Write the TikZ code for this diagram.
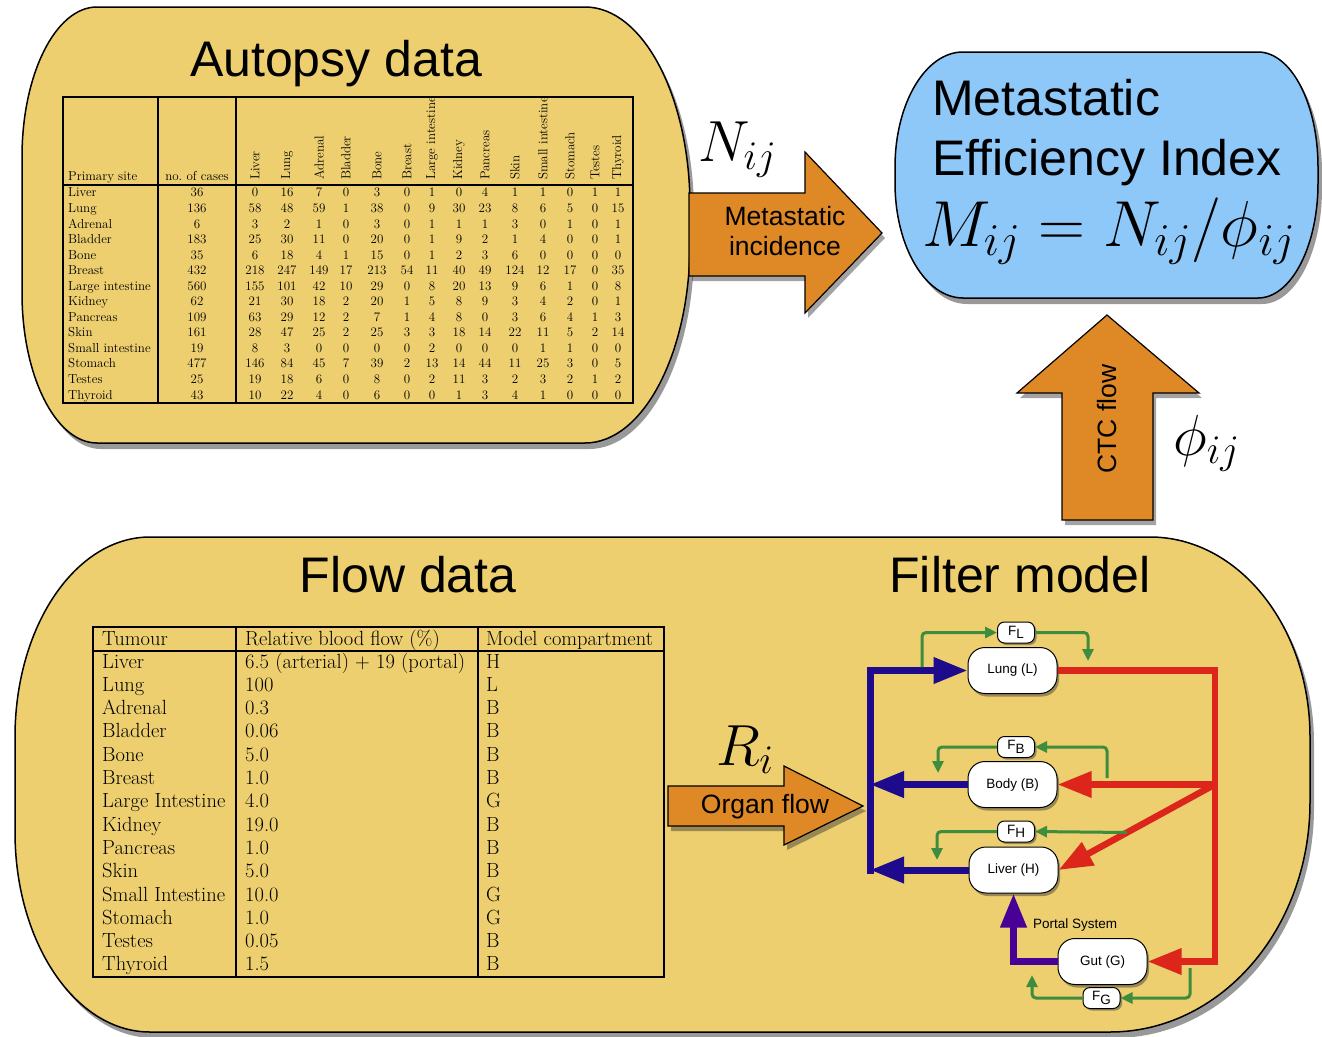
\documentclass[tikz,border=0pt]{standalone}
\usepackage{fix-cm}
\usepackage{fontspec}
\newfontfamily\arialf{Liberation Sans}
\usetikzlibrary{arrows.meta,shadows}
\definecolor{boxyellow}{RGB}{237,207,112}
\definecolor{boxblue}{RGB}{142,200,248}
\definecolor{arrorange}{RGB}{222,136,38}
\definecolor{navyc}{RGB}{30,10,140}
\definecolor{purpc}{RGB}{72,0,150}
\definecolor{redc}{RGB}{220,38,27}
\definecolor{greenc}{RGB}{62,140,62}
\begin{document}
\begin{tikzpicture}[x=1pt,y=-1pt,
  bigbox/.style={draw=black, line width=1.5pt, line join=round,
     drop shadow={opacity=0.5, shadow xshift=4pt, shadow yshift=-6pt, fill=black!80}},
  bigarrow/.style={draw=black, line width=1.2pt, fill=arrorange, line join=miter,
     drop shadow={opacity=0.45, shadow xshift=3pt, shadow yshift=-5pt, fill=black!80}},
  title/.style={font=\arialf\fontsize{50}{60}\selectfont, inner sep=0pt},
  arrlabel/.style={font=\arialf\fontsize{26.5}{30}\selectfont, inner sep=0pt},
  tabtxt/.style={font=\fontsize{13}{15}\selectfont, inner sep=0pt},
  ftabtxt/.style={font=\fontsize{20.5}{23}\selectfont, inner sep=0pt, anchor=base west},
  tabline/.style={line width=1.2pt},
  fnode/.style={draw=black, line width=1pt, fill=white, rounded corners=17pt,
     minimum width=89pt, minimum height=46pt, inner sep=0pt,
     font=\arialf\fontsize{13.5}{16}\selectfont,
     drop shadow={opacity=0.45, shadow xshift=2pt, shadow yshift=-3pt, fill=black!80}},
  fsmall/.style={draw=black, line width=1pt, fill=white, rounded corners=7pt,
     minimum width=37pt, minimum height=21pt, inner sep=0pt,
     font=\arialf\fontsize{13.5}{16}\selectfont,
     drop shadow={opacity=0.45, shadow xshift=2pt, shadow yshift=-2pt, fill=black!80}},
  bigtip/.style={-{Triangle[length=34pt,width=25pt]}},
  navyline/.style={draw=navyc, line width=7pt, line join=miter, bigtip},
  purpline/.style={draw=purpc, line width=7pt, line join=miter, bigtip},
  redline/.style={draw=redc, line width=6.5pt, line join=miter, bigtip},
  greenline/.style={draw=greenc, line width=3pt, rounded corners=4pt,
     -{Triangle[length=12pt,width=11pt]}},
  mathlbl/.style={inner sep=0pt, font=\fontsize{58}{68}\selectfont}
]
\useasboundingbox (0,0) rectangle (1322,1036);

% ---------- Autopsy box ----------
\path[bigbox, fill=boxyellow]
  (97,7) -- (585,7) .. controls (643,7) and (690,96.6) .. (690,207)
  -- (690,243) .. controls (690,353.4) and (643,443) .. (585,443)
  -- (97,443) .. controls (55.6,443) and (22,375.8) .. (22,293)
  -- (22,157) .. controls (22,74.2) and (55.6,7) .. (97,7) -- cycle;
\node[title, anchor=base] (autotitle) at (336,76) {Autopsy data};

% autopsy table
\draw[tabline] (63,97) rectangle (633,403);
\draw[tabline] (63,185) -- (633,185);
\draw[tabline] (158,97) -- (158,403);
\draw[tabline] (236,97) -- (236,403);
\node[tabtxt, anchor=base west] (hprim) at (68,180) {Primary site};
\node[tabtxt, anchor=base] (hcases) at (197,180) {no.\ of cases};
\foreach \h [count=\c] in {Liver,Lung,Adrenal,Bladder,Bone,Breast,Large intestine,Kidney,Pancreas,Skin,Small intestine,Stomach,Testes,Thyroid}{
  \pgfmathsetmacro\xx{{255,287,319,346,377,407,432,459,485,515,543,570,595,618}[\c-1]}
  \node[tabtxt, rotate=90, anchor=west] (ah\c) at (\xx,180) {\h};
}
\foreach \nm/\cs/\vals [count=\r] in {
 Liver/36/{0,16,7,0,3,0,1,0,4,1,1,0,1,1},
 Lung/136/{58,48,59,1,38,0,9,30,23,8,6,5,0,15},
 Adrenal/6/{3,2,1,0,3,0,1,1,1,3,0,1,0,1},
 Bladder/183/{25,30,11,0,20,0,1,9,2,1,4,0,0,1},
 Bone/35/{6,18,4,1,15,0,1,2,3,6,0,0,0,0},
 Breast/432/{218,247,149,17,213,54,11,40,49,124,12,17,0,35},
 Large intestine/560/{155,101,42,10,29,0,8,20,13,9,6,1,0,8},
 Kidney/62/{21,30,18,2,20,1,5,8,9,3,4,2,0,1},
 Pancreas/109/{63,29,12,2,7,1,4,8,0,3,6,4,1,3},
 Skin/161/{28,47,25,2,25,3,3,18,14,22,11,5,2,14},
 Small intestine/19/{8,3,0,0,0,0,2,0,0,0,1,1,0,0},
 Stomach/477/{146,84,45,7,39,2,13,14,44,11,25,3,0,5},
 Testes/25/{19,18,6,0,8,0,2,11,3,2,3,2,1,2},
 Thyroid/43/{10,22,4,0,6,0,0,1,3,4,1,0,0,0}}{
  \pgfmathsetmacro\yy{192.5+15.55*(\r-1)+4.4}
  \node[tabtxt, anchor=base west] (an\r) at (68,\yy) {\nm};
  \node[tabtxt, anchor=base] (ac\r) at (197,\yy) {\cs};
  \foreach \v [count=\c] in \vals {
    \pgfmathsetmacro\xx{{255,287,319,346,377,407,432,459,485,515,543,570,595,618}[\c-1]}
    \node[tabtxt, anchor=base] (av\r-\c) at (\xx,\yy) {\v};
  }
}

% ---------- Metastatic efficiency box ----------
\path[bigbox, fill=boxblue]
  (895,167) .. controls (895,103.5) and (925.4,52) .. (963,52)
  -- (1258,52) .. controls (1291.1,52) and (1318,103.5) .. (1318,167)
  -- (1318,183) .. controls (1318,246.5) and (1291.1,298) .. (1258,298)
  -- (963,298) .. controls (925.4,298) and (895,246.5) .. (895,183) -- cycle;
\node[title, anchor=base west] (mei1) at (932,115) {Metastatic};
\node[title, anchor=base west] (mei2) at (932,175) {Efficiency Index};
\node[inner sep=0pt, anchor=base west, font=\fontsize{65}{75}\selectfont] (meiform) at (922,246) {$M_{ij}=N_{ij}/\phi_{ij}$};

% ---------- orange arrows ----------
\path[bigarrow] (689,193) -- (805,193) -- (805,152) -- (882,233) -- (805,313) -- (805,276) -- (689,276) -- cycle;
\node[arrlabel, anchor=base] (inc1) at (785,225) {Metastatic};
\node[arrlabel, anchor=base] (inc2) at (785,255) {incidence};
\node[mathlbl, anchor=base west] (Nlbl) at (698,161) {$N_{ij}$};

\path[bigarrow] (1062,520) -- (1062,393) -- (1017,393) -- (1107,315) -- (1199,393) -- (1153,393) -- (1153,520) -- cycle;
\node[arrlabel, rotate=90] (ctc) at (1107,419) {CTC flow};
\node[mathlbl, anchor=base west] (philbl) at (1173,455) {$\phi_{ij}$};

% ---------- bottom box ----------
\path[bigbox, fill=boxyellow]
  (15,737) .. controls (15,626.5) and (75.4,537) .. (150,537)
  -- (1150,537) .. controls (1238.4,537) and (1310,626.5) .. (1310,737)
  -- (1310,802) .. controls (1310,929) and (1220.5,1032) .. (1110,1032)
  -- (150,1032) .. controls (75.4,1032) and (15,942.5) .. (15,832) -- cycle;
\node[title, anchor=base] (flowtitle) at (408,592) {Flow data};
\node[title, anchor=base] (filtertitle) at (1020,592) {Filter model};

% flow table
\draw[tabline] (93,627) rectangle (664,977);
\draw[tabline] (93,651) -- (664,651);
\draw[tabline] (236,627) -- (236,977);
\draw[tabline] (478,627) -- (478,977);
\node[ftabtxt] (fh1) at (102,645) {Tumour};
\node[ftabtxt] (fh2) at (245,645) {Relative blood flow (\%)};
\node[ftabtxt] (fh3) at (486,645) {Model compartment};
\foreach \a/\b/\cc [count=\r] in {
 Liver/6.5 (arterial) + 19 (portal)/H,
 Lung/100/L,
 Adrenal/0.3/B,
 Bladder/0.06/B,
 Bone/5.0/B,
 Breast/1.0/B,
 Large Intestine/4.0/G,
 Kidney/19.0/B,
 Pancreas/1.0/B,
 Skin/5.0/B,
 Small Intestine/10.0/G,
 Stomach/1.0/G,
 Testes/0.05/B,
 Thyroid/1.5/B}{
  \pgfmathsetmacro\yy{661+23.3*(\r-1)+7}
  \node[ftabtxt] (ft\r) at (102,\yy) {\a};
  \node[ftabtxt] (ff\r) at (245,\yy) {\b};
  \node[ftabtxt] (fc\r) at (486,\yy) {\cc};
}

% organ flow arrow
\path[bigarrow] (668,786) -- (784,786) -- (784,766) -- (863,806) -- (784,845) -- (784,826) -- (668,826) -- cycle;
\node[arrlabel, anchor=base] (organ) at (765,813) {Organ flow};
\node[mathlbl, anchor=base west] (Rlbl) at (716,765) {$R_{i}$};

% ---------- filter model ----------
\node[fnode] (lung) at (1012.5,670.5) {Lung (L)};
\node[fnode] (body) at (1012.5,784.5) {Body (B)};
\node[fnode] (liver) at (1013.5,870) {Liver (H)};
\node[fnode] (gut) at (1102.5,961.5) {Gut (G)};
\node[fsmall] (fl) at (1016,632.5) {F\raisebox{-3.5pt}{L}};
\node[fsmall] (fb) at (1016,747) {F\raisebox{-3.5pt}{B}};
\node[fsmall] (fhh) at (1016,831.5) {F\raisebox{-3.5pt}{H}};
\node[fsmall] (fg) at (1101.5,998) {F\raisebox{-3.5pt}{G}};
\node[inner sep=0pt, font=\arialf\fontsize{13.5}{16}\selectfont] (portal) at (1075,925) {Portal System};

% blue (venous) lines
\coordinate (bv) at (870,0);
\coordinate (btop) at (870,670.5);
\coordinate (bbot) at (870,873.5);
\draw[navyline] (bbot) -- (btop) -- (lung.west);
\draw[navyline] (body.west) -- (bv |- body.west);
\draw[navyline] (liver.west) -- (bv |- liver.west);
\draw[purpline] (gut.west) -| (liver.south);

% red (arterial) lines
\coordinate (rv) at (1215,0);
\coordinate (rdiag) at (1212,786);
\draw[redline] (lung.east) -- (rv |- lung.east) -- (rv |- gut.east) -- (gut.east);
\draw[redline] (rv |- body.east) -- (body.east);
\draw[redline] (rdiag) -- (liver.east);

% green (filter) lines
\coordinate (gL1) at (922,667);
\coordinate (gL2) at (1088,661);
\coordinate (gB1) at (1107,778);
\coordinate (gB2) at (938,773);
\coordinate (gH1) at (1127,832.5);
\coordinate (gH2) at (937,860);
\coordinate (gG1) at (1190,968);
\coordinate (gG2) at (1032,975);
\draw[greenline] (gL1) |- (fl.west);
\draw[greenline] (fl.east) -| (gL2);
\draw[greenline] (gB1) |- (fb.east);
\draw[greenline] (fb.west) -| (gB2);
\draw[greenline] (gH1) -- (fhh.east);
\draw[greenline] (fhh.west) -| (gH2);
\draw[greenline] (gG1) |- (fg.east);
\draw[greenline] (fg.west) -| (gG2);
\end{tikzpicture}
\end{document}
